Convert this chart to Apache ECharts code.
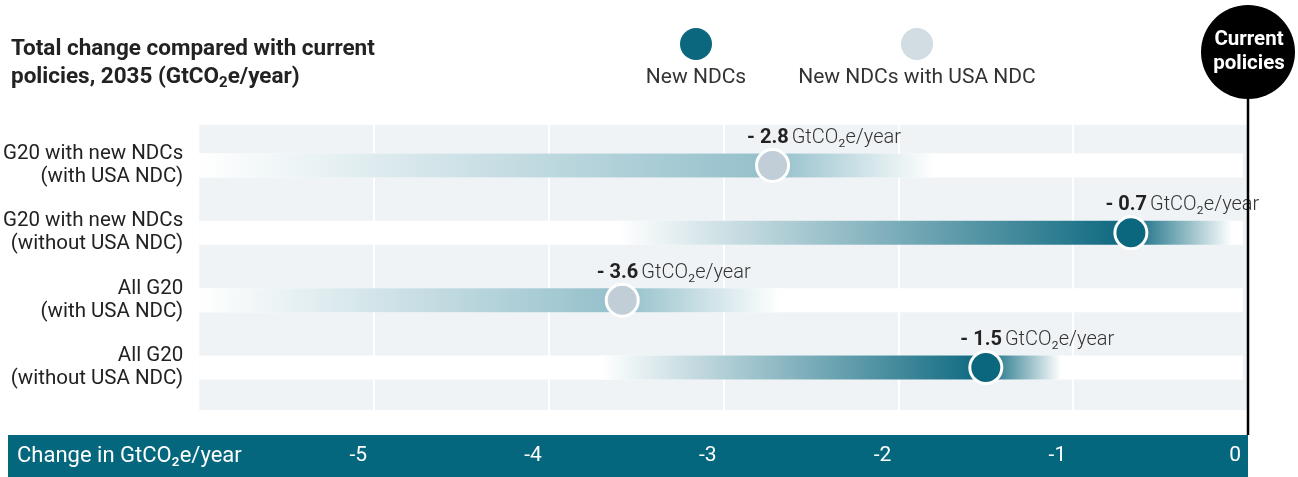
<!DOCTYPE html>
<html>
<head>
<meta charset="utf-8">
<script src="https://cdn.jsdelivr.net/npm/echarts@6/dist/echarts.min.js"></script>
<style>
  html, body { margin: 0; padding: 0; background: #fff; }
  #chart { width: 1298px; height: 477px; }
</style>
</head>
<body>
<div id="chart"></div>
<script>
// rows, top to bottom
const categories = [
  'G20 with new NDCs\n(with USA NDC)',
  'G20 with new NDCs\n(without USA NDC)',
  'All G20\n(with USA NDC)',
  'All G20\n(without USA NDC)'
]
// where each dot sits on the x axis
const values = [-2.72, -0.67, -3.58, -1.5]
// printed value beside each dot
const valueLabels = ['2.8', '0.7', '3.6', '1.5']
// 1 = New NDCs, 0 = New NDCs with USA NDC
const kinds = [0, 1, 0, 1]
// faded band behind each dot: start and end on the x axis
const bandStart = [-6, -3.6, -6, -3.7]
const bandEnd = [-1.79, -0.09, -2.68, -1.07]
const xTicks = [-5, -4, -3, -2, -1]

const DARK = '#0b677e'
const LIGHT_DOT = '#c1cdd7'
const LIGHT_BAND = '#93bfca'
const FONT = 'Roboto, sans-serif'

const chart = echarts.init(document.getElementById('chart'))

const bandData = categories.map((c, i) => [i, bandStart[i], bandEnd[i], values[i], kinds[i]])
const dotData = (k) => values.map((v, i) => (kinds[i] === k ? [v, i, valueLabels[i]] : null)).filter(Boolean)

const dotLabel = {
  show: true,
  position: [-8, -10],
  align: 'left',
  verticalAlign: 'middle',
  formatter: (p) => '{b|- ' + p.value[2] + '} {n|GtCO₂e/year}',
  rich: {
    b: { fontFamily: FONT, fontSize: 20, fontWeight: 'bold', color: '#222' },
    n: { fontFamily: FONT, fontSize: 20, fontWeight: 300, color: '#333' }
  }
}

const option = {
  animation: false,
  textStyle: { fontFamily: FONT },
  title: {
    left: 6,
    top: 30,
    text: 'Total change compared with current\npolicies, 2035 (GtCO{sub|2}e/year)',
    textStyle: {
      fontFamily: FONT,
      fontSize: 22.5,
      fontWeight: 'bold',
      color: '#222',
      lineHeight: 28,
      rich: {
        sub: { fontFamily: FONT, fontSize: 15, fontWeight: 'bold', color: '#222', padding: [12, 0, 0, 0] }
      }
    }
  },
  grid: {
    left: 198,
    right: 50,
    top: 125,
    bottom: 67,
    show: true,
    backgroundColor: '#eff3f6',
    borderWidth: 0
  },
  xAxis: {
    type: 'value',
    min: -6,
    max: 0,
    interval: 1,
    position: 'bottom',
    offset: 25,
    z: 10,
    axisLine: { show: false },
    axisTick: {
      show: true,
      length: 42,
      customValues: xTicks,
      lineStyle: { color: '#fff', width: 2 }
    },
    axisLabel: {
      showMinLabel: false,
      color: '#fff',
      fontFamily: FONT,
      fontSize: 21,
      align: 'right',
      padding: [0, 7, 0, 0],
      margin: 10
    },
    splitLine: { show: true, lineStyle: { color: '#fff', width: 2 } }
  },
  yAxis: {
    type: 'value',
    inverse: true,
    min: -0.6,
    max: 3.63,
    axisLine: { show: false },
    axisTick: { show: false },
    splitLine: { show: false },
    axisLabel: {
      customValues: [0, 1, 2, 3],
      formatter: (v) => categories[v] || '',
      color: '#222',
      fontFamily: FONT,
      fontSize: 20.5,
      lineHeight: 23,
      align: 'right',
      padding: [16, 0, 0, 0],
      margin: 16
    }
  },
  series: [
    {
      type: 'custom',
      name: 'bands',
      data: bandData,
      encode: { x: [1, 2, 3], y: 0 },
      z: 11,
      renderItem: (params, api) => {
        const row = api.value(0)
        const h = 24
        const s = api.coord([api.value(1), row])
        const e = api.coord([api.value(2), row])
        const p = api.coord([api.value(3), row])
        const l = api.coord([-6, row])
        const r = api.coord([-0.03, row])
        const color = api.value(4) ? DARK : LIGHT_BAND
        const stop = (p[0] - s[0]) / (e[0] - s[0])
        return {
          type: 'group',
          children: [
            {
              type: 'rect',
              shape: { x: l[0], y: p[1] - h / 2, width: r[0] - l[0], height: h },
              style: { fill: '#fff' }
            },
            {
              type: 'rect',
              shape: { x: s[0], y: p[1] - h / 2, width: e[0] - s[0], height: h },
              style: {
                fill: new echarts.graphic.LinearGradient(0, 0, 1, 0, [
                  { offset: 0, color: 'rgba(255,255,255,1)' },
                  { offset: stop, color: color },
                  { offset: 1, color: 'rgba(255,255,255,1)' }
                ])
              }
            }
          ]
        }
      }
    },
    {
      type: 'scatter',
      name: 'New NDCs',
      data: dotData(1),
      symbolSize: 32,
      z: 12,
      itemStyle: { color: DARK, opacity: 1, borderColor: '#fff', borderWidth: 3 },
      label: dotLabel
    },
    {
      type: 'scatter',
      name: 'New NDCs with USA NDC',
      data: dotData(0),
      symbolSize: 32,
      z: 12,
      itemStyle: { color: LIGHT_DOT, opacity: 1, borderColor: '#fff', borderWidth: 3 },
      label: dotLabel
    }
  ]
}
chart.setOption(option)

// decorations that hang off the axes: bottom band, legend, "Current policies" marker
const zeroX = chart.convertToPixel({ xAxisIndex: 0 }, 0)
chart.setOption({
  graphic: [
    {
      type: 'rect',
      z: -10,
      shape: { x: 8, y: 435, width: zeroX - 8, height: 42 },
      style: { fill: '#05677d' }
    },
    {
      type: 'text',
      z: 20,
      x: 17,
      y: 456,
      style: { text: 'Change in GtCO₂e/year', fill: '#fff', font: '22px ' + FONT, verticalAlign: 'middle' }
    },
    {
      type: 'circle',
      shape: { cx: 696, cy: 44, r: 16 },
      style: { fill: DARK }
    },
    {
      type: 'text',
      x: 696,
      y: 78,
      style: { text: 'New NDCs', fill: '#333', font: '21px ' + FONT, align: 'center', verticalAlign: 'middle' }
    },
    {
      type: 'circle',
      shape: { cx: 917, cy: 44, r: 16 },
      style: { fill: '#d2dce3' }
    },
    {
      type: 'text',
      x: 917,
      y: 78,
      style: { text: 'New NDCs with USA NDC', fill: '#333', font: '21px ' + FONT, align: 'center', verticalAlign: 'middle' }
    },
    {
      type: 'line',
      z: 20,
      shape: { x1: zeroX, y1: 60, x2: zeroX, y2: 435 },
      style: { stroke: '#000', lineWidth: 2.5 }
    },
    {
      type: 'circle',
      z: 21,
      shape: { cx: zeroX, cy: 52, r: 47 },
      style: { fill: '#000' }
    },
    {
      type: 'text',
      z: 22,
      x: zeroX + 1,
      y: 52,
      style: {
        text: 'Current\npolicies',
        fill: '#fff',
        font: 'bold 20.5px ' + FONT,
        lineHeight: 24,
        align: 'center',
        verticalAlign: 'middle'
      }
    }
  ]
})

window.addEventListener('resize', () => chart.resize())
</script>
</body>
</html>
